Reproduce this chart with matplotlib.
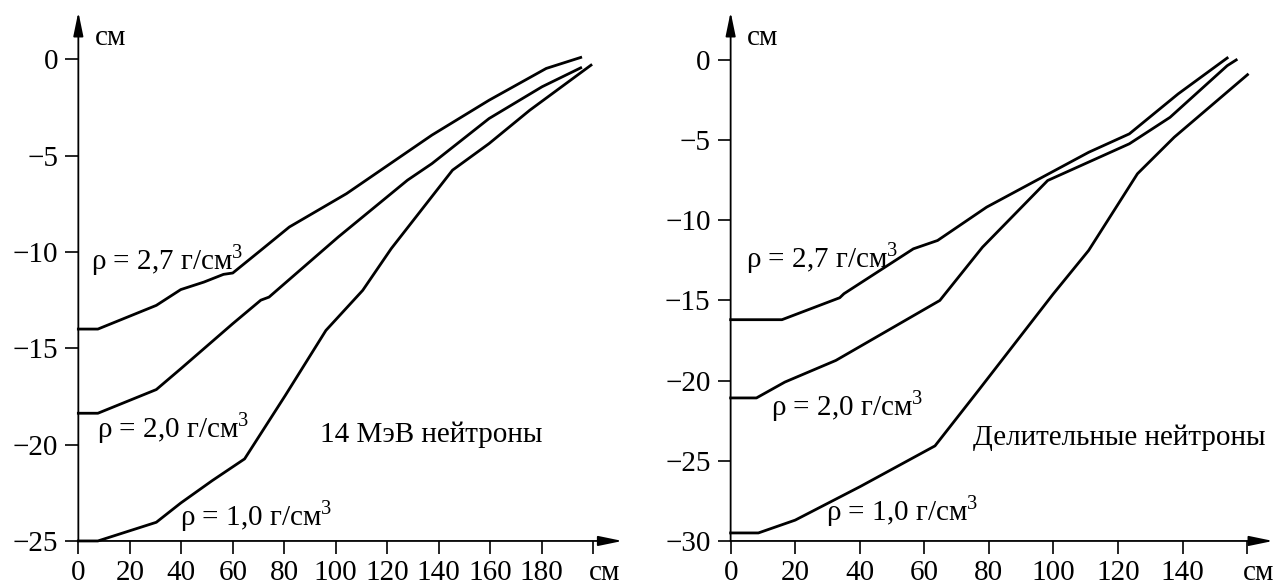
import matplotlib
matplotlib.use("Agg")
import matplotlib.pyplot as plt
import matplotlib.transforms as mtransforms

plt.rcParams["font.family"] = ["Liberation Serif", "DejaVu Serif"]
plt.rcParams["mathtext.fontset"] = "custom"
plt.rcParams["mathtext.rm"] = "Liberation Serif"

# ── Left panel: 14 MeV neutrons ─────────────────────────────
l27_x = [0, 7.6, 30.3, 39.8, 48.8, 56.4, 60, 70.9, 82, 104.2, 137.4, 159.6, 181.8, 195.2]
l27_y = [-14.0, -14.0, -12.77, -11.95, -11.56, -11.16, -11.09, -9.91, -8.7, -6.97, -3.93, -2.12, -0.47, 0.1]

l20_x = [0, 7.6, 30.3, 39.8, 60, 70.9, 74.1, 101, 127.9, 137.4, 159.6, 180.2, 195.2]
l20_y = [-18.37, -18.37, -17.14, -16.06, -13.72, -12.5, -12.34, -9.22, -6.27, -5.41, -3.07, -1.42, -0.44]

l10_x = [0, 7.6, 30.3, 39.8, 52, 64.6, 80.4, 96.2, 110.5, 121.6, 145.4, 159.6, 175.4, 199.2]
l10_y = [-25.0, -25.0, -24.03, -23.03, -21.87, -20.74, -17.45, -14.07, -11.99, -9.82, -5.75, -4.37, -2.64, -0.3]

# ── Right panel: fission neutrons ───────────────────────────
r27_x = [0, 15.9, 33.8, 35.1, 56.6, 64.1, 79.3, 110.9, 123.5, 138.6, 153.8]
r27_y = [-16.2, -16.2, -14.83, -14.58, -11.78, -11.26, -9.18, -5.76, -4.61, -2.12, 0.12]

r20_x = [0, 8.0, 16.8, 32.6, 64.8, 78, 98.2, 123.5, 136.1, 153.8, 156.6]
r20_y = [-21.08, -21.08, -20.09, -18.74, -15.0, -11.68, -7.52, -5.23, -3.58, -0.36, 0.0]

r10_x = [0, 8.6, 20, 40.2, 63.3, 76.8, 99.9, 110.9, 126, 137.4, 160.1]
r10_y = [-29.5, -29.5, -28.7, -26.6, -24.07, -20.6, -14.6, -11.88, -7.1, -4.82, -0.92]

left_xticks = [0, 20, 40, 60, 80, 100, 120, 140, 160, 180, 200]
left_yticks = [0, -5, -10, -15, -20, -25]
right_xticks = [0, 20, 40, 60, 80, 100, 120, 140, 160]
right_yticks = [0, -5, -10, -15, -20, -25, -30]

TICK_FS = 21
NOTE_FS = 21
LW = 2.0


def _setup_axis(ax, xticks, yticks, xlim, ylim):
    ax.set_xlim(*xlim)
    ax.set_ylim(*ylim)
    for s in ax.spines.values():
        s.set_visible(False)
    ax.set_xticks(xticks)
    ax.set_yticks(yticks)
    # last x tick carries the unit instead of a number
    ax.set_xticklabels([str(t) for t in xticks[:-1]] + [""])
    ax.set_yticklabels([f"\u2212{abs(t)}" if t < 0 else str(t) for t in yticks])
    ax.tick_params(axis="x", direction="out", length=9.4, width=1.2,
                   labelsize=TICK_FS, pad=4.5)
    ax.tick_params(axis="y", direction="out", length=9.4, width=1.2,
                   labelsize=TICK_FS, pad=5)
    # axis lines with arrow heads
    arrow = dict(arrowstyle="-|>,head_length=1.45,head_width=0.3", lw=1.3,
                 color="black", shrinkA=0, shrinkB=0, mutation_scale=10)
    ax.annotate("", xy=(1, 0), xytext=(0, 0), xycoords="axes fraction",
                arrowprops=arrow, annotation_clip=False)
    ax.annotate("", xy=(0, 1), xytext=(0, 0), xycoords="axes fraction",
                arrowprops=arrow, annotation_clip=False)
    # unit labels
    yoff = mtransforms.offset_copy(ax.transAxes, fig=ax.figure, x=12, y=0,
                                   units="points")
    ax.text(0, 0.951, "см", transform=yoff, fontsize=TICK_FS,
            ha="left", va="center")
    xoff = mtransforms.offset_copy(ax.get_xaxis_transform(), fig=ax.figure,
                                   x=8, y=0, units="points")
    ax.text(xticks[-1], -0.074, "см", transform=xoff, fontsize=TICK_FS,
            ha="center", va="baseline")


def _dens(v):
    return "ρ = " + v + r" г/см$^{\mathregular{3}}$"


fig = plt.figure(figsize=(12.78, 5.88), dpi=100)
ax1 = fig.add_axes([0.0613, 0.0800, 0.4257, 0.8996])
ax2 = fig.add_axes([0.5717, 0.0800, 0.4244, 0.8996])

_setup_axis(ax1, left_xticks, left_yticks, (0, 211.4), (-25, 2.46))
_setup_axis(ax2, right_xticks, right_yticks, (0, 168), (-30, 2.99))

for xs, ys in [(l27_x, l27_y), (l20_x, l20_y), (l10_x, l10_y)]:
    ax1.plot(xs, ys, color="black", lw=LW, solid_joinstyle="round", clip_on=False)
for xs, ys in [(r27_x, r27_y), (r20_x, r20_y), (r10_x, r10_y)]:
    ax2.plot(xs, ys, color="black", lw=LW, solid_joinstyle="round", clip_on=False)

ax1.text(4.75, -10.91, _dens("2,7"), fontsize=NOTE_FS, va="baseline")
ax1.text(7.1, -19.62, _dens("2,0"), fontsize=NOTE_FS, va="baseline")
ax1.text(39.4, -24.2, _dens("1,0"), fontsize=NOTE_FS, va="baseline")
ax1.text(94, -19.87, "14 МэВ нейтроны", fontsize=NOTE_FS, va="baseline")

ax2.text(4.9, -12.92, _dens("2,7"), fontsize=NOTE_FS, va="baseline")
ax2.text(12.5, -22.16, _dens("2,0"), fontsize=NOTE_FS, va="baseline")
ax2.text(29.5, -28.7, _dens("1,0"), fontsize=NOTE_FS, va="baseline")
ax2.text(75, -24.03, "Делительные нейтроны", fontsize=NOTE_FS, va="baseline")

fig.savefig("out.png", dpi=100)
